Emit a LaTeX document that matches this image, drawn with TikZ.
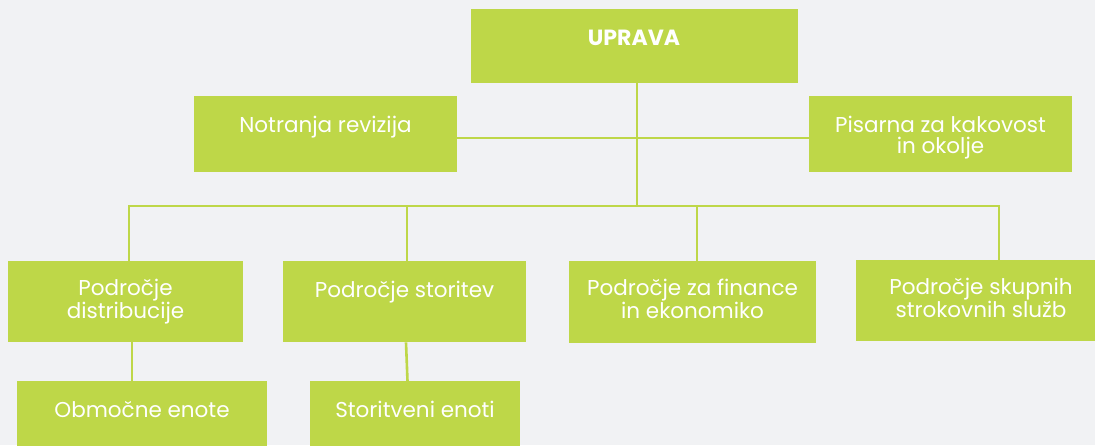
\documentclass[tikz,border=0pt]{standalone}
\usepackage{fontspec}
\setmainfont{Poppins}
\definecolor{bg}{RGB}{241,242,244}
\definecolor{lime}{RGB}{190,215,72}
\tikzset{
  orgbox/.style={fill=lime, draw=none, inner sep=0pt, anchor=north west},
  orglbl/.style={text=white, anchor=base, align=center, inner sep=0pt,
    font=\fontsize{21.5}{21.7}\selectfont},
  orgline/.style={draw=lime, line width=2.6pt},
}
\begin{document}
\begin{tikzpicture}[x=1pt,y=-1pt]
\useasboundingbox (0,0) rectangle (1095,445);
\clip (0,0) rectangle (1095,445);
\fill[bg] (0,0) rectangle (1095,445);
% boxes
\node[orgbox, minimum width=327pt, minimum height=74pt] (up) at (471,9) {};
\node[orgbox, minimum width=263pt, minimum height=76pt] (nr) at (194,96) {};
\node[orgbox, minimum width=263pt, minimum height=76pt] (pk) at (809,96) {};
\node[orgbox, minimum width=235pt, minimum height=81pt] (pd) at (8,261) {};
\node[orgbox, minimum width=243pt, minimum height=81pt] (ps) at (283,261) {};
\node[orgbox, minimum width=247pt, minimum height=82pt] (pf) at (569,261) {};
\node[orgbox, minimum width=245pt, minimum height=81pt] (pss) at (856,260) {};
\node[orgbox, minimum width=250pt, minimum height=80pt] (oe) at (17,381) {};
\node[orgbox, minimum width=210pt, minimum height=80pt] (se) at (310,381) {};
% labels (base anchor = baseline of the last line)
\node[orglbl, font=\fontsize{22}{21.7}\selectfont\bfseries] (up-t) at (634,45) {UPRAVA};
\node[orglbl] (nr-t) at (325.5,132) {Notranja revizija};
\node[orglbl] (pk-t) at (940.5,153.7) {Pisarna za kakovost\\in okolje};
\node[orglbl] (pd-t) at (125.5,318.7) {Področje\\distribucije};
\node[orglbl] (ps-t) at (404.5,297) {Področje storitev};
\node[orglbl] (pf-t) at (692.5,318.7) {Področje za finance\\in ekonomiko};
\node[orglbl] (pss-t) at (981,317.7) {Področje skupnih\\strokovnih služb};
\node[orglbl] (oe-t) at (142,417) {Območne enote};
\node[orglbl] (se-t) at (415,417) {Storitveni enoti};
% connector coordinates
\coordinate (upx) at (637,0);
\coordinate (bus) at (0,206);
\coordinate (mid) at (0,138);
\coordinate (c1) at (129,0);
\coordinate (c2) at (407,0);
\coordinate (c3) at (697,0);
\coordinate (c4) at (999,0);
% connectors
\draw[orgline] (up.south -| upx) -- (bus -| upx);
\draw[orgline] (nr.east |- mid) -- (pk.west |- mid);
\draw[orgline] (pd.north -| c1) -- (bus -| c1) -- (bus -| c4) -- (pss.north -| c4);
\draw[orgline] (bus -| c2) -- (ps.north -| c2);
\draw[orgline] (bus -| c3) -- (pf.north -| c3);
\draw[orgline] (pd.south -| 132,0) -- (oe.north -| 132,0);
\draw[orgline] (ps.south -| 406,0) -- (se.north -| 407.5,0);
\end{tikzpicture}
\end{document}
